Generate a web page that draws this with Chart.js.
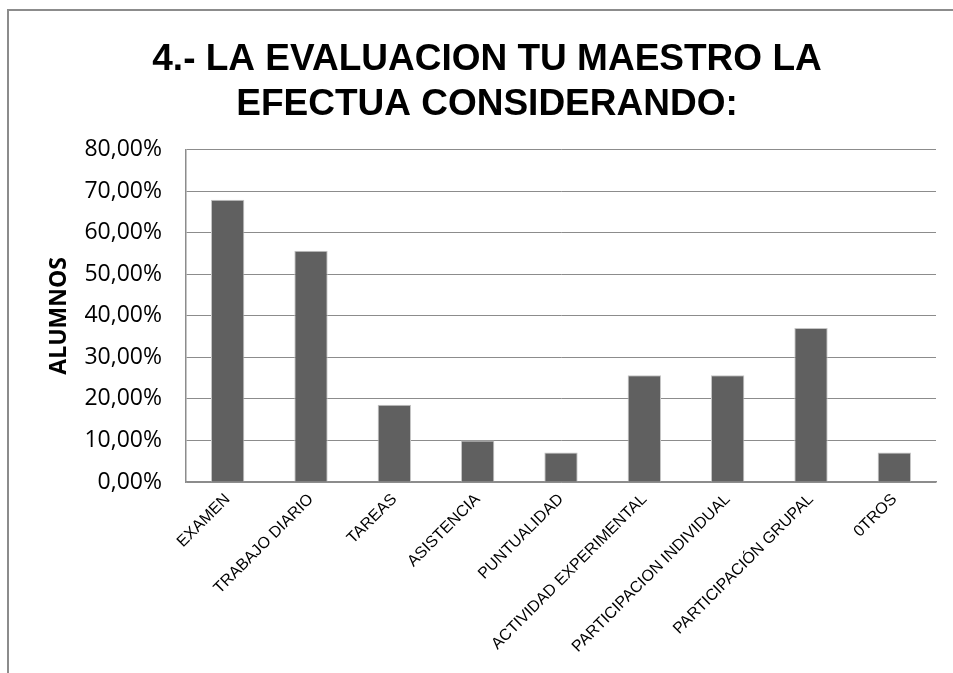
<!DOCTYPE html>
<html>
<head>
<meta charset="utf-8">
<script src="https://cdn.jsdelivr.net/npm/chart.js@4/dist/chart.umd.min.js"></script>
<style>
html,body{margin:0;padding:0;background:#fff;}
#wrap{position:relative;width:953px;height:673px;}
</style>
</head>
<body>
<div id="wrap"><canvas id="c" width="953" height="673"></canvas></div>
<script>
const titleLines = ["4.- LA EVALUACION TU MAESTRO LA", "EFECTUA CONSIDERANDO:"];
const yAxisTitle = "ALUMNOS";
const categories = ["EXAMEN", "TRABAJO DIARIO", "TAREAS", "ASISTENCIA", "PUNTUALIDAD",
  "ACTIVIDAD EXPERIMENTAL", "PARTICIPACION INDIVIDUAL", "PARTICIPACIÓN GRUPAL", "0TROS"];
const values = [68.0, 55.7, 18.6, 10.0, 7.1, 25.7, 25.7, 37.1, 7.1];
const yTicks = [0, 10, 20, 30, 40, 50, 60, 70, 80];

const framePlugin = {
  id: 'frame',
  beforeDraw(chart) {
    const ctx = chart.ctx;
    ctx.save();
    ctx.fillStyle = '#ffffff';
    ctx.fillRect(0, 0, chart.width, chart.height);
    ctx.strokeStyle = '#8c8c8c';
    ctx.lineWidth = 2;
    ctx.beginPath();
    ctx.moveTo(8, chart.height + 2);
    ctx.lineTo(8, 10);
    ctx.lineTo(chart.width + 2, 10);
    ctx.stroke();
    ctx.restore();
  }
};

new Chart(document.getElementById('c'), {
  type: 'bar',
  data: {
    labels: categories,
    datasets: [{
      data: values,
      backgroundColor: '#606060',
      borderColor: '#c4c4c4',
      borderWidth: 1,
      barPercentage: 0.4,
      categoryPercentage: 1.0
    }]
  },
  options: {
    responsive: false,
    animation: false,
    devicePixelRatio: 1,
    layout: { padding: { left: 38, right: 17, top: 30, bottom: 0 } },
    plugins: {
      legend: { display: false },
      tooltip: { enabled: false },
      title: {
        display: true,
        text: titleLines,
        color: '#000000',
        font: { family: '"Liberation Sans", Arial, sans-serif', size: 37, weight: 'bold', lineHeight: 1.2 },
        padding: { top: 8, bottom: 23 }
      }
    },
    scales: {
      x: {
        grid: { display: false },
        border: { display: true, color: '#8c8c8c', width: 1.5 },
        ticks: {
          color: '#000000',
          font: { family: '"Liberation Sans", Arial, sans-serif', size: 16 },
          minRotation: 45,
          maxRotation: 45,
          autoSkip: false,
          padding: 0
        },
        afterFit(scale) { scale.height = 191; }
      },
      y: {
        min: 0,
        max: 80,
        afterBuildTicks(scale) { scale.ticks = yTicks.map(v => ({ value: v })); },
        grid: { color: '#8c8c8c', lineWidth: 1, drawTicks: false },
        border: { display: true, color: '#8c8c8c', width: 1.5 },
        ticks: {
          color: '#000000',
          font: { family: '"Open Sans", "Noto Sans", sans-serif', size: 23 },
          padding: 24,
          callback: v => v.toFixed(2).replace('.', ',') + '%'
        },
        title: {
          display: true,
          text: yAxisTitle,
          color: '#000000',
          font: { family: '"Open Sans", "Noto Sans", sans-serif', size: 23, weight: 'bold', lineHeight: 1.2 },
          padding: { top: 8, bottom: 0 }
        },
        afterFit(scale) { scale.width = 148; }
      }
    }
  },
  plugins: [framePlugin]
});
</script>
</body>
</html>
